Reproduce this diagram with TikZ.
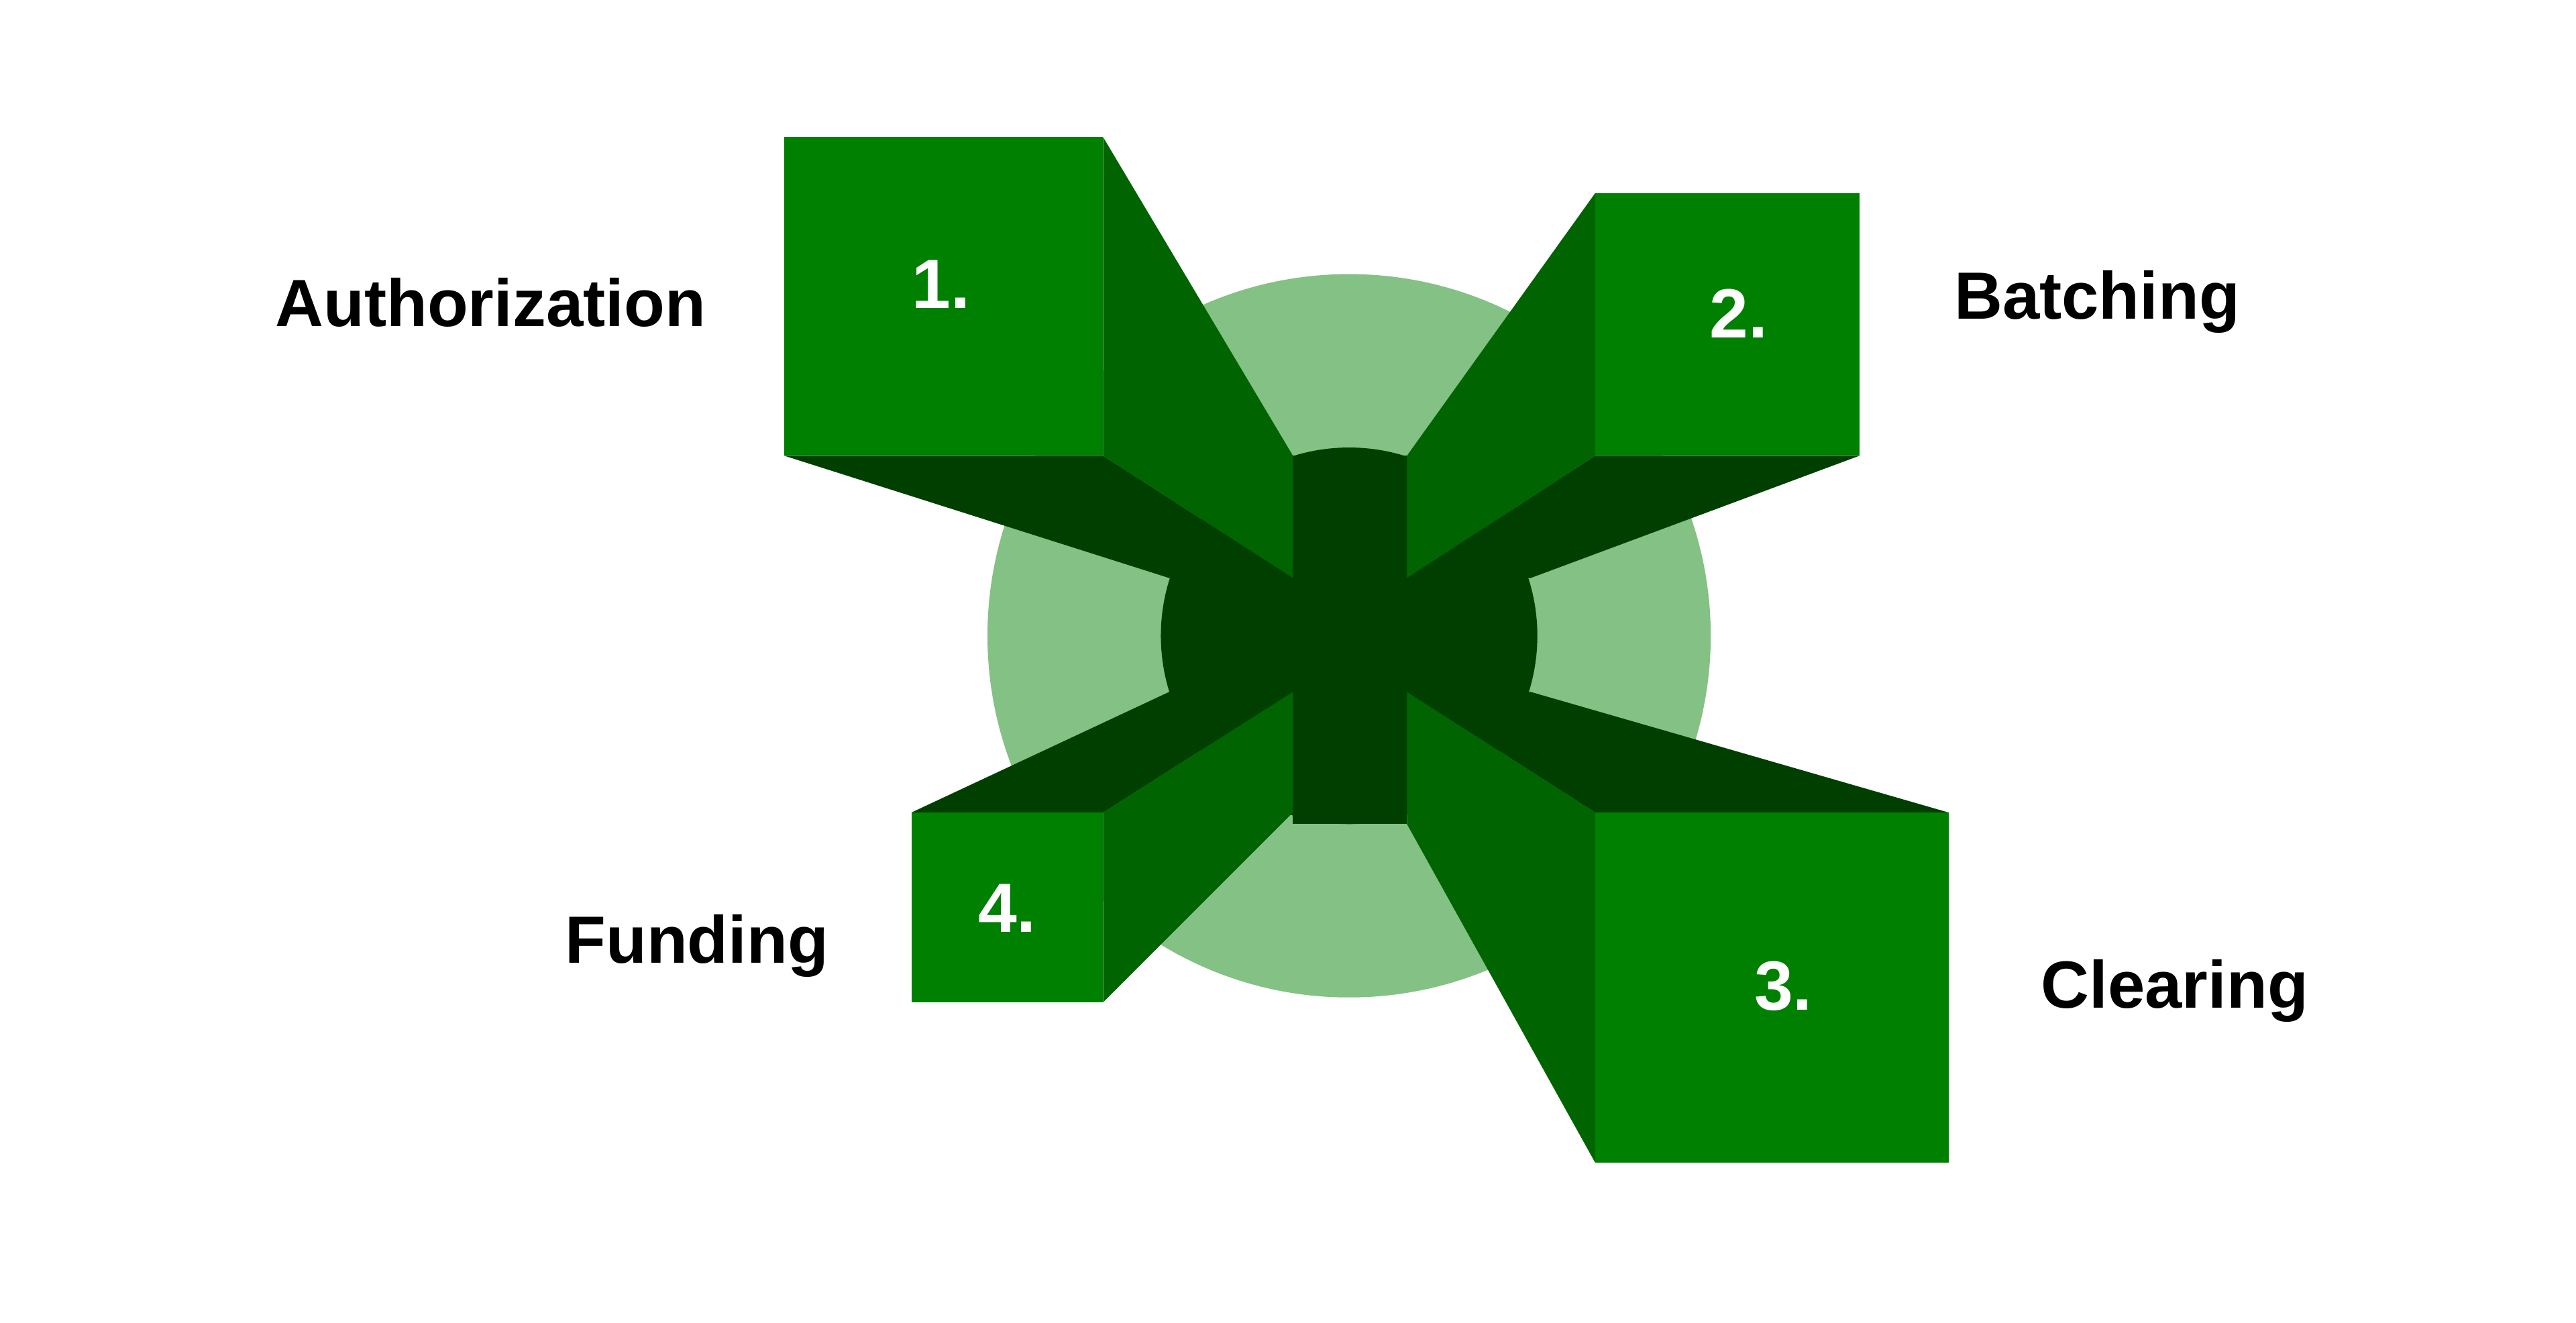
\documentclass[tikz,border=0pt]{standalone}
\usepackage{fontspec}
\setmainfont{Liberation Sans}
\definecolor{lightg}{HTML}{84C184}
\definecolor{darkg}{HTML}{003F00}
\definecolor{midg}{HTML}{006400}
\definecolor{frontg}{HTML}{008000}
\begin{document}
\begin{tikzpicture}[x=0.01cm,y=-0.01cm,
  lbl/.style={font=\fontsize{11.5}{13}\selectfont\bfseries, text=black},
  num/.style={font=\fontsize{12}{14}\selectfont\bfseries, text=white}]
\useasboundingbox (0,0) rectangle (1560,801);
\fill[lightg] (817,385) circle (219);
\fill[darkg] (817,385) circle (114);
\fill[darkg] (783,276) rectangle (852,499);
% dark faces
\fill[darkg] (475,276) -- (668,276) -- (783,350) -- (708,350) -- cycle;
\fill[darkg] (966,276) -- (1126,276) -- (927,350) -- (852,350) -- cycle;
\fill[darkg] (852,419) -- (927,419) -- (1180,492) -- (966,492) -- cycle;
\fill[darkg] (552,492) -- (708,419) -- (783,419) -- (668,492) -- cycle;
% side faces
\fill[midg] (668,83) -- (783,276) -- (783,350) -- (668,276) -- cycle;
\fill[midg] (966,117) -- (852,276) -- (852,350) -- (966,276) -- cycle;
\fill[midg] (966,492) -- (852,419) -- (852,499) -- (966,704) -- cycle;
\fill[midg] (668,492) -- (783,419) -- (783,492) -- (668,607) -- cycle;
% fronts
\fill[frontg] (475,83) rectangle (668,276);
\fill[frontg] (966,117) rectangle (1126,276);
\fill[frontg] (966,492) rectangle (1180,704);
\fill[frontg] (552,492) rectangle (668,607);
\node[num] (n1) at (570,172) {1.};
\node[num] (n2) at (1053,190) {2.};
\node[num] (n3) at (1080,597) {3.};
\node[num] (n4) at (610,550) {4.};
\node[lbl] (l1) at (297,183) {Authorization};
\node[lbl] (l2) at (1270,183) {Batching};
\node[lbl] (l3) at (1317,600) {Clearing};
\node[lbl] (l4) at (422,573) {Funding};
\end{tikzpicture}
\end{document}
